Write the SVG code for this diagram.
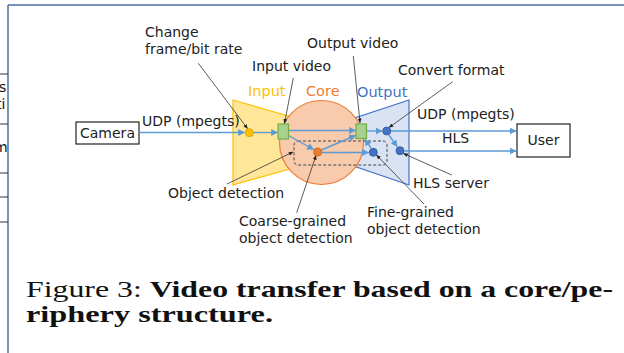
<svg xmlns="http://www.w3.org/2000/svg" width="624" height="353" viewBox="0 0 624 353">
  <style>
    .lbl { font-family: "DejaVu Sans", "Noto Sans", sans-serif; font-size: 14px; fill: #222; }
    .zone { font-family: "DejaVu Sans", "Noto Sans", sans-serif; font-size: 14.5px; }
    .frag { font-family: "DejaVu Sans", sans-serif; font-size: 14px; fill: #111; }
    .flow { stroke: #5B9BD5; stroke-width: 1.4; fill: none; marker-end: url(#blueHead); }
    .lead { stroke: #333; stroke-width: 0.8; fill: none; marker-end: url(#blackHead); }
    .box { fill: #fff; stroke: #222; stroke-width: 1.2; }
    .green { fill: #A9D18E; stroke: #70AD47; stroke-width: 1.2; }
    .blueDot { fill: #4472C4; stroke: #2F5597; stroke-width: 0.8; }
    .cap { font-family: "Liberation Serif", "DejaVu Serif", serif; font-size: 24px; fill: #111; }
  </style>
  <defs>
    <marker id="blueHead" viewBox="0 0 10 10" refX="9" refY="5" markerWidth="5" markerHeight="5" orient="auto" markerUnits="strokeWidth">
      <path d="M0,0 L10,5 L0,10 z" fill="#5B9BD5"/>
    </marker>
    <marker id="blackHead" viewBox="0 0 10 10" refX="9" refY="5" markerWidth="6" markerHeight="6" orient="auto" markerUnits="strokeWidth">
      <path d="M0,1 L10,5 L0,9 z" fill="#222"/>
    </marker>
  </defs>

  <rect x="0" y="0" width="624" height="353" fill="#fff"/>

  <!-- page frame -->
  <g id="frame" stroke="#4A6FA5" stroke-width="1.5" fill="none">
    <line x1="8" y1="5" x2="624" y2="5"/>
    <line x1="8" y1="5" x2="8" y2="353"/>
  </g>

  <!-- edge of the neighbouring table -->
  <g id="table-edge">
    <g stroke="#333" stroke-width="1">
      <line x1="0" y1="74" x2="8" y2="74"/>
      <line x1="0" y1="124" x2="8" y2="124"/>
      <line x1="0" y1="173" x2="8" y2="173"/>
      <line x1="0" y1="197" x2="8" y2="197"/>
      <line x1="0" y1="222" x2="8" y2="222"/>
    </g>
    <text class="frag" x="-1" y="92">s</text>
    <text class="frag" x="-4" y="109">ti</text>
    <text class="frag" x="-6" y="152">m</text>
  </g>

  <!-- zones -->
  <g id="input-zone">
    <polygon points="233,100 300,119.5 300,166 233,185" fill="#FFE699" stroke="#FFC000" stroke-width="1.2"/>
    <text class="zone" x="248" y="96" fill="#FFC000">Input</text>
  </g>
  <g id="output-zone">
    <polygon points="409,100 409,185 345,163 345,121.3" fill="#DAE3F3" stroke="#4472C4" stroke-width="1.2"/>
    <text class="zone" x="357" y="97" fill="#4472C4">Output</text>
  </g>
  <g id="core-zone">
    <circle cx="321.5" cy="142.5" r="42" fill="#F8CBAD" stroke="#ED7D31" stroke-width="1.2"/>
    <text class="zone" x="306" y="96" fill="#ED7D31">Core</text>
  </g>

  <!-- object detection group -->
  <g id="object-detection">
    <rect x="294" y="141" width="93" height="24" rx="4" fill="none" stroke="#444" stroke-width="1" stroke-dasharray="3,2"/>
  </g>

  <!-- endpoints -->
  <g id="camera">
    <rect class="box" x="76" y="122" width="63" height="22"/>
    <text class="lbl" x="107.5" y="138" text-anchor="middle">Camera</text>
  </g>
  <g id="user">
    <rect class="box" x="517" y="124" width="53" height="33"/>
    <text class="lbl" x="543.5" y="145" text-anchor="middle">User</text>
  </g>

  <!-- connectors -->
  <g id="connectors">
    <line class="flow" x1="139" y1="132.5" x2="244.5" y2="132.5"/>
    <line class="flow" x1="253.5" y1="132.5" x2="277.5" y2="132.5"/>
    <line class="flow" x1="289" y1="130.5" x2="355.5" y2="130.5"/>
    <line class="flow" x1="288.5" y1="135.5" x2="313.5" y2="149.5"/>
    <line class="flow" x1="321.5" y1="150" x2="355.5" y2="135.5"/>
    <line class="flow" x1="322" y1="152.5" x2="368.5" y2="152.5"/>
    <line class="flow" x1="371" y1="148" x2="365" y2="139.5"/>
    <line class="flow" x1="366.5" y1="131" x2="382" y2="131"/>
    <line class="flow" x1="391" y1="131" x2="516" y2="131"/>
    <line class="flow" x1="389" y1="135" x2="397" y2="146.5"/>
    <line class="flow" x1="404.5" y1="151" x2="516" y2="151"/>

    <line class="lead" x1="198.3" y1="63.3" x2="247.5" y2="128.5"/>
    <line class="lead" x1="293.3" y1="78" x2="284.5" y2="123.3"/>
    <line class="lead" x1="353.3" y1="56" x2="360" y2="122.7"/>
    <line class="lead" x1="452.7" y1="81.7" x2="389" y2="127.5"/>
    <line class="lead" x1="451.7" y1="175" x2="403.5" y2="153.5"/>
    <line class="lead" x1="424" y1="204" x2="376.5" y2="155"/>
    <line class="lead" x1="227" y1="184" x2="293" y2="152"/>
    <line class="lead" x1="296.7" y1="212.7" x2="316" y2="155.5"/>
  </g>

  <!-- processing points -->
  <g id="change-rate"><circle cx="249.3" cy="132.7" r="4" fill="#FFC000" stroke="#D4A000" stroke-width="0.8"/></g>
  <g id="input-video"><rect class="green" x="278" y="124" width="10.5" height="15"/></g>
  <g id="coarse-detection"><circle cx="317.7" cy="152" r="4" fill="#ED7D31" stroke="#C55A11" stroke-width="0.8"/></g>
  <g id="output-video"><rect class="green" x="356" y="124" width="10.5" height="14.5"/></g>
  <g id="convert-format"><circle class="blueDot" cx="386.7" cy="131" r="4"/></g>
  <g id="hls-server"><circle class="blueDot" cx="400" cy="150.7" r="4"/></g>
  <g id="fine-detection"><circle class="blueDot" cx="373.3" cy="152.3" r="4"/></g>

  <!-- labels -->
  <g id="labels">
    <text class="lbl" x="145" y="37">Change</text>
    <text class="lbl" x="145" y="54">frame/bit rate</text>
    <text class="lbl" x="252" y="71">Input video</text>
    <text class="lbl" x="307" y="48">Output video</text>
    <text class="lbl" x="398" y="75">Convert format</text>
    <text class="lbl" x="142" y="126">UDP (mpegts)</text>
    <text class="lbl" x="417" y="119">UDP (mpegts)</text>
    <text class="lbl" x="442" y="143">HLS</text>
    <text class="lbl" x="413" y="188">HLS server</text>
    <text class="lbl" x="367" y="217">Fine-grained</text>
    <text class="lbl" x="367" y="234">object detection</text>
    <text class="lbl" x="168" y="198">Object detection</text>
    <text class="lbl" x="239" y="226">Coarse-grained</text>
    <text class="lbl" x="239" y="243">object detection</text>
  </g>

  <!-- caption -->
  <g id="caption">
    <text class="cap" x="26" y="297" textLength="587" lengthAdjust="spacingAndGlyphs">Figure 3: <tspan font-weight="bold">Video transfer based on a core/pe-</tspan></text>
    <text class="cap" x="26" y="322" font-weight="bold" textLength="247" lengthAdjust="spacingAndGlyphs">riphery structure.</text>
  </g>
</svg>
